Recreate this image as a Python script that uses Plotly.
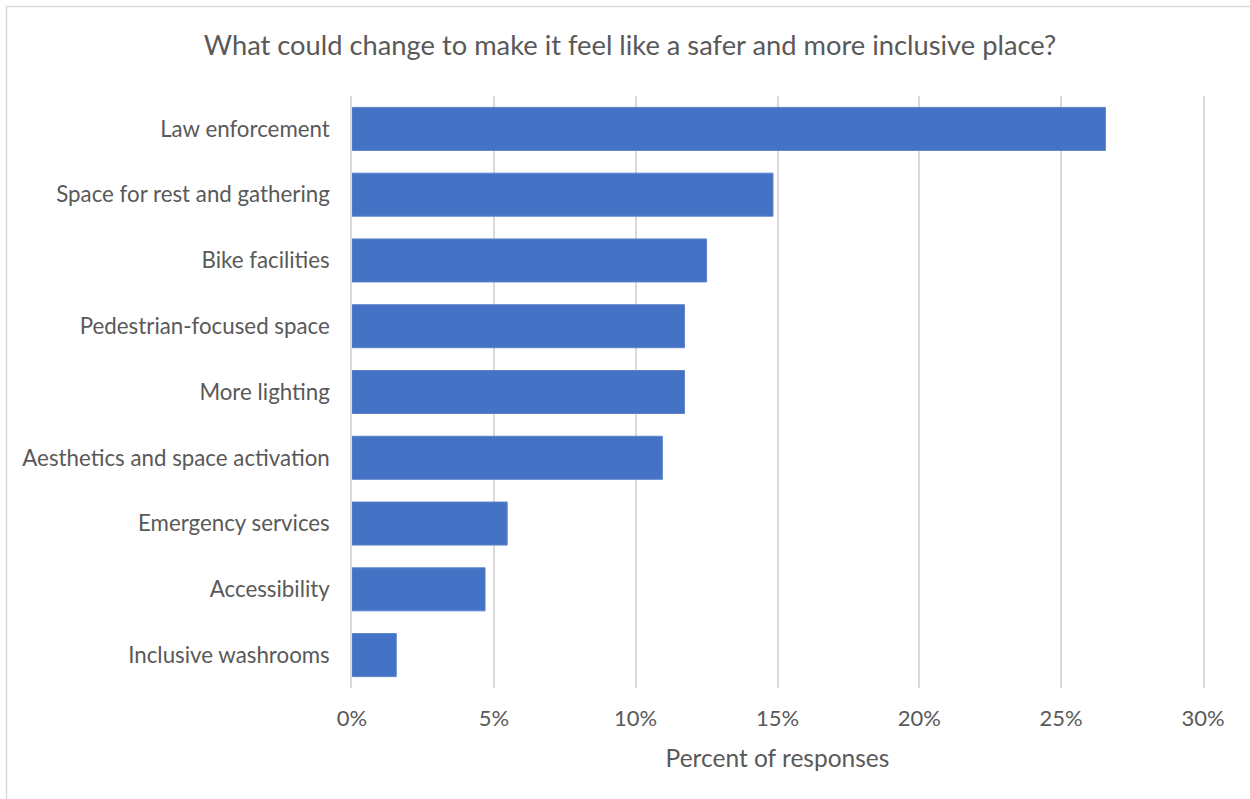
import plotly.graph_objects as go

categories = [
    "Law enforcement",
    "Space for rest and gathering",
    "Bike facilities",
    "Pedestrian-focused space",
    "More lighting",
    "Aesthetics and space activation",
    "Emergency services",
    "Accessibility",
    "Inclusive washrooms",
]
percent_values = [26.56, 14.84, 12.50, 11.72, 11.72, 10.94, 5.47, 4.69, 1.56]
x_tick_values = [0, 5, 10, 15, 20, 25, 30]
x_tick_labels = ["0%", "5%", "10%", "15%", "20%", "25%", "30%"]

FONT = "Lato"
TXT = "#595959"
GRID = "#d9d9d9"

fig = go.Figure(
    go.Bar(
        x=percent_values,
        y=categories,
        orientation="h",
        marker=dict(color="#4472C4", line=dict(color="#5b83cc", width=1)),
        hoverinfo="x+y",
    )
)

fig.update_layout(
    width=1250,
    height=799,
    autosize=False,
    paper_bgcolor="white",
    plot_bgcolor="white",
    margin=dict(l=352, r=47, t=96, b=111),
    bargap=0.346,
    showlegend=False,
    title=dict(
        text="What could change to make it feel like a safer and more inclusive place?",
        x=0.504,
        xanchor="center",
        y=1 - 45 / 799,
        yanchor="middle",
        font=dict(family=FONT, size=27.3, color=TXT),
    ),
    font=dict(family=FONT, color=TXT),
    shapes=[
        dict(
            type="rect",
            xref="paper",
            yref="paper",
            x0=-345.5 / 851,
            x1=1.2,
            y0=-0.3,
            y1=1 + 89.5 / 592,
            line=dict(color=GRID, width=1.5),
            fillcolor="rgba(0,0,0,0)",
            layer="below",
        )
    ],
)

fig.update_xaxes(
    range=[0, 30],
    tickvals=x_tick_values,
    ticktext=x_tick_labels,
    showgrid=True,
    gridcolor=GRID,
    gridwidth=1.5,
    zeroline=False,
    showline=False,
    ticks="",
    ticklabelstandoff=15,
    tickfont=dict(family=FONT, size=22, color=TXT),
    title=dict(
        text="Percent of responses",
        font=dict(family=FONT, size=24.5, color=TXT),
        standoff=19,
    ),
)

fig.update_yaxes(
    categoryorder="array",
    categoryarray=categories,
    autorange="reversed",
    showgrid=False,
    zeroline=False,
    showline=True,
    mirror=True,
    linecolor=GRID,
    linewidth=1.5,
    ticks="",
    ticklabelstandoff=16,
    tickfont=dict(family=FONT, size=22.3, color=TXT),
)

fig.write_html(
    "out.html",
    config={"displayModeBar": False},
    post_script="document.body.style.margin='0';document.body.style.padding='0';",
)
